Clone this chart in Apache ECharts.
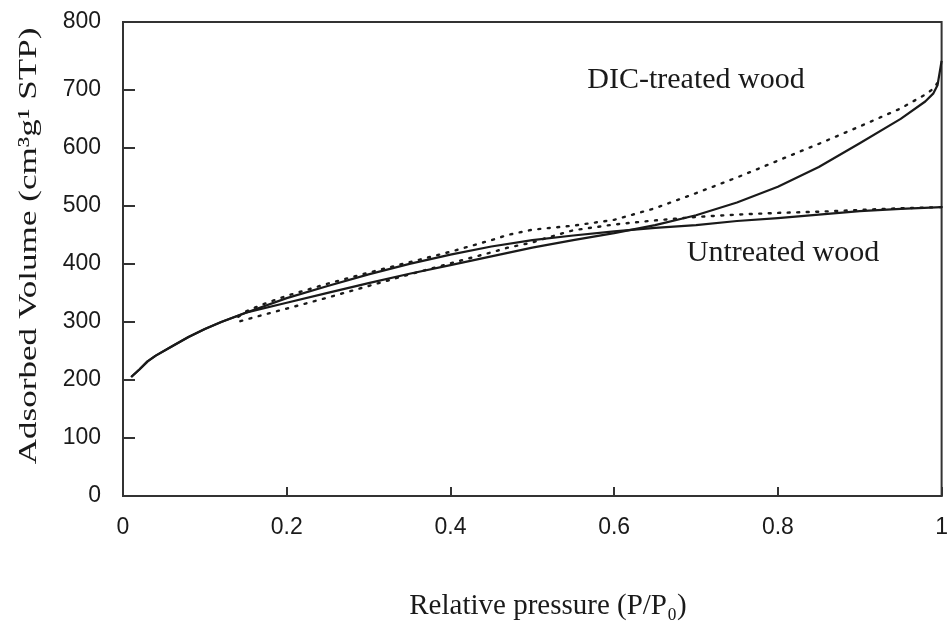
<!DOCTYPE html>
<html>
<head>
<meta charset="utf-8">
<script src="https://cdn.jsdelivr.net/npm/echarts@6/dist/echarts.min.js"></script>
<style>
html,body{margin:0;padding:0;background:#fff;}
#chart{width:951px;height:622px;}
</style>
</head>
<body>
<div id="chart"></div>
<script>
// ---- data ----
const xTicks = [0, 0.2, 0.4, 0.6, 0.8, 1];
const yTickLabels = [0, 100, 200, 300, 400, 500, 600, 700, 800];

// Untreated wood, adsorption (solid)
const pUntreatedAds = [0.01,0.02,0.03,0.04,0.06,0.08,0.10,0.12,0.15,0.20,0.25,0.30,0.35,0.40,0.45,0.50,0.55,0.60,0.65,0.70,0.75,0.80,0.85,0.90,0.95,1.00];
const vUntreatedAds = [205,218,232,242,258,274,288,300,316,341,362,382,400,416,430,441,449,456,462,467,474,479,485,491,495,498];

// Untreated wood, desorption (dotted)
const pUntreatedDes = [1.00,0.95,0.90,0.85,0.80,0.75,0.70,0.65,0.60,0.55,0.52,0.50,0.47,0.45,0.40,0.35,0.30,0.25,0.20,0.16,0.14];
const vUntreatedDes = [498,496,493,490,488,485,481,475,468,458,446,437,428,420,401,382,362,342,323,308,300];

// DIC-treated wood, adsorption (solid)
const pDicAds = [0.01,0.02,0.03,0.04,0.06,0.08,0.10,0.12,0.15,0.20,0.25,0.30,0.35,0.40,0.45,0.50,0.55,0.60,0.65,0.70,0.75,0.80,0.85,0.90,0.95,0.98,0.99,0.995,1.00];
const vDicAds = [205,218,232,242,258,274,288,300,316,333,350,367,383,398,413,428,441,453,467,484,506,533,567,608,650,680,694,708,750];

// DIC-treated wood, desorption (dotted)
const pDicDes = [0.995,0.99,0.98,0.95,0.90,0.85,0.80,0.75,0.70,0.65,0.60,0.55,0.50,0.47,0.45,0.40,0.35,0.30,0.25,0.20,0.17,0.15,0.14];
const vDicDes = [712,702,692,668,637,607,578,549,522,496,476,466,459,450,441,421,403,385,366,345,330,318,308];

const pair = (xs, ys) => xs.map((x, i) => [x, ys[i]]);

const serif = '"Liberation Serif","DejaVu Serif",serif';
const sans = '"Liberation Sans","DejaVu Sans",sans-serif';
const ink = '#1a1a1a';

const solid = { color: ink, width: 2.2, type: 'solid', join: 'round' };
const dotted = { color: ink, width: 2.4, type: [2, 7.5], cap: 'round' };

const chart = echarts.init(document.getElementById('chart'), null, { renderer: 'canvas' });
chart.setOption({
  animation: false,
  backgroundColor: '#fff',
  grid: { left: 123, right: 3, top: 22, bottom: 126, show: true, borderColor: '#333', borderWidth: 2, backgroundColor: 'transparent' },
  xAxis: {
    type: 'value', min: 0, max: 1, interval: 0.2,
    axisLine: { show: true, lineStyle: { color: '#333', width: 2 } },
    axisTick: { show: true, inside: true, length: 9, lineStyle: { color: '#333', width: 2 } },
    axisLabel: { margin: 20, fontFamily: sans, fontSize: 23, color: ink,
      formatter: v => (xTicks.indexOf(Math.round(v * 10) / 10) >= 0 ? String(Math.round(v * 10) / 10) : '') },
    splitLine: { show: false }
  },
  yAxis: {
    type: 'value', min: 0, max: 817,
    axisLine: { show: true, lineStyle: { color: '#333', width: 2 } },
    axisTick: { show: true, inside: true, length: 12, customValues: [100, 200, 300, 400, 500, 600, 700], lineStyle: { color: '#333', width: 2 } },
    axisLabel: { margin: 22, fontFamily: sans, fontSize: 23, color: ink,
      customValues: [0, 100, 200, 300, 400, 500, 600, 700, 817],
      formatter: v => (v > 800 ? String(yTickLabels[8]) : String(v)) },
    splitLine: { show: false }
  },
  series: [
    { name: 'Untreated adsorption', type: 'line', data: pair(pUntreatedAds, vUntreatedAds), showSymbol: false, smooth: false, lineStyle: solid, z: 3 },
    { name: 'Untreated desorption', type: 'line', data: pair(pUntreatedDes, vUntreatedDes), showSymbol: false, smooth: false, lineStyle: dotted, z: 2 },
    { name: 'DIC adsorption', type: 'line', data: pair(pDicAds, vDicAds), showSymbol: false, smooth: false, lineStyle: solid, z: 3 },
    { name: 'DIC desorption', type: 'line', data: pair(pDicDes, vDicDes), showSymbol: false, smooth: false, lineStyle: dotted, z: 2 }
  ],
  graphic: [
    { type: 'text', x: 548, y: 606, silent: true,
      style: { text: 'Relative pressure (P/P\u2080)', font: '29px ' + serif, fill: ink, textAlign: 'center', textVerticalAlign: 'middle', align: 'center', verticalAlign: 'middle' } },
    { type: 'text', x: 29, y: 246, rotation: Math.PI / 2, scaleX: 1.35, silent: true,
      style: { text: 'Adsorbed Volume (cm\u00b3g\u00b9 STP)', font: '26px ' + serif, fill: ink, textAlign: 'center', textVerticalAlign: 'middle', align: 'center', verticalAlign: 'middle' } },
    { type: 'text', x: 696, y: 80, silent: true,
      style: { text: 'DIC-treated wood', font: '30px ' + serif, fill: ink, textAlign: 'center', textVerticalAlign: 'middle', align: 'center', verticalAlign: 'middle' } },
    { type: 'text', x: 783, y: 253, silent: true,
      style: { text: 'Untreated wood', font: '30px ' + serif, fill: ink, textAlign: 'center', textVerticalAlign: 'middle', align: 'center', verticalAlign: 'middle' } }
  ]
});
</script>
</body>
</html>
